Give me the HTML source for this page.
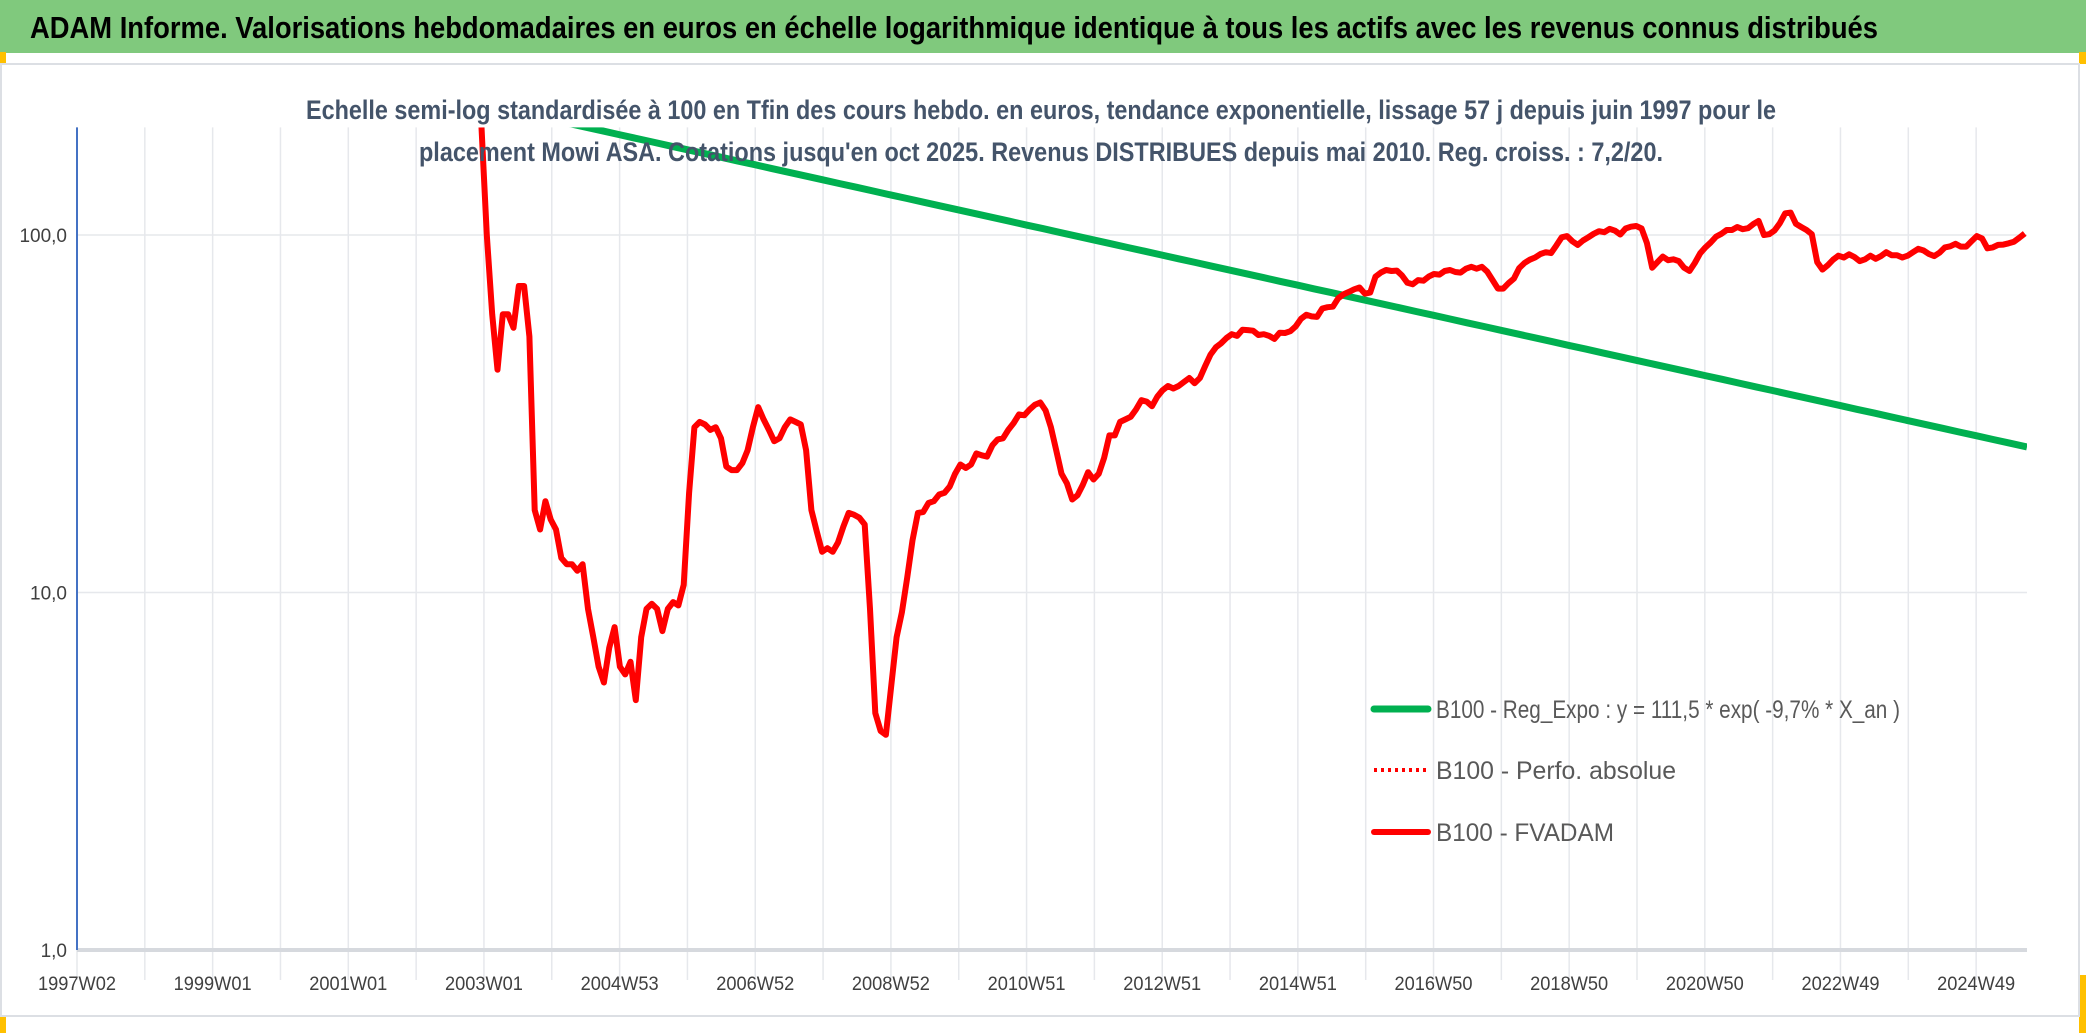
<!DOCTYPE html>
<html><head><meta charset="utf-8"><style>
html,body{margin:0;padding:0;background:#fff;}
svg{display:block;font-family:"Liberation Sans",sans-serif;}
</style></head><body>
<svg id="chart" width="2086" height="1033" viewBox="0 0 2086 1033" xmlns="http://www.w3.org/2000/svg">
<rect x="0" y="0" width="2086" height="53" fill="#80c97d"/>
<text x="30" y="38" font-size="31" font-weight="bold" fill="#000" textLength="1848" lengthAdjust="spacingAndGlyphs">ADAM Informe. Valorisations hebdomadaires en euros en échelle logarithmique identique à tous les actifs avec les revenus connus distribués</text>
<rect x="0" y="52" width="6" height="12" fill="#ffc000"/>
<rect x="2079" y="52" width="7" height="12" fill="#ffc000"/>
<rect x="0" y="1017" width="6" height="16" fill="#ffc000"/>
<rect x="2079" y="975" width="7" height="58" fill="#ffc000"/>
<rect x="1" y="64" width="2078" height="952" fill="#fff" stroke="#dcdfe4" stroke-width="2"/>
<text x="306" y="119" font-size="27" font-weight="bold" fill="#44546a" textLength="1470" lengthAdjust="spacingAndGlyphs">Echelle semi-log standardisée à 100 en Tfin des cours hebdo. en euros, tendance exponentielle, lissage 57 j depuis juin 1997 pour le</text>
<g id="grid"></g>
<g id="series"></g>
<text x="419" y="161" font-size="27" font-weight="bold" fill="#44546a" textLength="1244" lengthAdjust="spacingAndGlyphs">placement Mowi ASA. Cotations jusqu'en oct 2025. Revenus DISTRIBUES depuis mai 2010. Reg. croiss. : 7,2/20.</text>
<g id="axes"></g>
<g>
<line x1="1374" y1="709" x2="1428" y2="709" stroke="#00b050" stroke-width="7" stroke-linecap="round"/>
<text x="1436" y="718" font-size="25" fill="#595959" textLength="464" lengthAdjust="spacingAndGlyphs">B100 - Reg_Expo : y = 111,5 * exp( -9,7% *  X_an )</text>
<line x1="1374" y1="770" x2="1428" y2="770" stroke="#ff0000" stroke-width="4" stroke-dasharray="3 4"/>
<text x="1436" y="779" font-size="25" fill="#595959" textLength="240" lengthAdjust="spacingAndGlyphs">B100 - Perfo. absolue</text>
<line x1="1374" y1="832" x2="1428" y2="832" stroke="#ff0000" stroke-width="6" stroke-linecap="round"/>
<text x="1436" y="841" font-size="25" fill="#595959" textLength="178" lengthAdjust="spacingAndGlyphs">B100 - FVADAM</text>
</g>
</svg>
<script>
const xTickLabels = ["1997W02","1999W01","2001W01","2003W01","2004W53","2006W52","2008W52","2010W51","2012W51","2014W51","2016W50","2018W50","2020W50","2022W49","2024W49"];
const yTickValues = [1, 10, 100];
const yTickLabels = ["1,0","10,0","100,0"];
const regA = 111.5;
const regRate = -0.097;
const regOriginYear = 2010.55;
const fvStartYear = 2002.98;
const fvStepYears = 0.0784;
const fvValues = [200,100,60,42,60,60,55,72,72,52,17,15,18,16,15,12.5,12,12,11.5,12,9,7.5,6.2,5.6,7,8,6.2,5.9,6.4,5,7.5,9,9.3,9,7.8,9,9.4,9.2,10.5,19,29,30,29.5,28.5,29,27,22.5,22,22,23,25,29,33,30.5,28.5,26.5,27,29,30.5,30,29.5,25,17,14.8,13,13.3,13,13.8,15.3,16.7,16.5,16.2,15.5,9,4.6,4.1,4,5.5,7.5,8.8,11,14,16.7,16.8,17.8,18,18.8,19,19.8,21.5,22.8,22.3,22.8,24.5,24.2,24,25.8,26.8,27,28.5,29.8,31.5,31.3,32.5,33.5,34,32.3,29,25,21.5,20.2,18.2,18.7,20,21.7,20.7,21.5,23.8,27.5,27.5,30,30.5,31,32.5,34.5,34.2,33.2,35.3,36.8,37.8,37.2,37.8,38.8,39.8,38.5,39.8,43,46.3,48.5,49.8,51.5,52.8,52.2,54.3,54.2,54,52.5,52.8,52.2,51.2,53.3,53.2,53.8,55.5,58.3,59.8,59.2,59,62.3,62.8,63,66.5,68.3,69.3,70.5,71.3,68.5,69,76.5,78.5,79.8,79.3,79.5,77,73.5,72.8,74.8,74.5,76.5,77.8,77.5,79.3,79.8,78.8,78.5,80.5,81.5,80.5,81.5,79,74.8,70.8,70.8,73.3,75.5,80.8,83.5,85.3,86.5,88.5,89.5,89,93.5,98.5,99.3,96,93.8,96.5,98.5,100.8,102.5,101.8,104,102.8,100.3,104.3,105.5,106,104.3,95,81,84,87,85,85.5,84.5,81,79.3,83.5,88.8,92.3,95.3,99,100.8,103.3,103.3,105.3,103.8,104.5,107.3,109.5,100,100.5,103,108,115,115.5,107.5,105.3,103.3,100.5,84,80,82.3,85.3,87.5,86.5,88.3,86.8,84.5,85.5,87.5,85.8,87.3,89.5,87.8,87.8,86.5,87.5,89.5,91.5,90.5,88.5,87.3,89.3,92.3,93,94.5,92.8,92.8,96,99.3,97.8,91.8,92.3,93.8,94,94.8,95.8,98.3,101];

const NS = "http://www.w3.org/2000/svg";
const X0 = 77, X1 = 2027, T0 = 1997.02, T1 = 2025.75;
const yTopVal = 200, Y100 = 235, DEC = 357.5;
function xScale(t){ return X0 + (t - T0) / (T1 - T0) * (X1 - X0); }
function yScale(v){ return Y100 - Math.log10(v / 100) * DEC; }
const yTop = yScale(yTopVal), yBot = yScale(1);
function mk(tag, attrs, parent){ const e = document.createElementNS(NS, tag); for (const k in attrs) e.setAttribute(k, attrs[k]); parent.appendChild(e); return e; }
const grid = document.getElementById('grid'), axes = document.getElementById('axes'), series = document.getElementById('series');

const nV = 29;
for (let i = 0; i < nV; i++) {
  const t = T0 + i * (T1 - T0) / 28.75;
  const x = xScale(t);
  if (x > X1) break;
  const l = mk('line', {x1:x, y1:yTop, x2:x, y2:yBot + 30, stroke:'#e6e8ec', 'stroke-width':1.5}, grid);
  
  
}
yTickValues.forEach((v, i) => {
  const y = yScale(v);
  const l = mk('line', {x1:X0, y1:y, x2:X1, y2:y, stroke: v === 1 ? '#d6d9de' : '#e6e8ec', 'stroke-width': v === 1 ? 4 : 1.5}, grid);
  
  
  const t = mk('text', {x:67, y:y + 7, 'text-anchor':'end', 'font-size':19, fill:'#404040'}, axes);
  t.textContent = yTickLabels[i];
  
  
});
const yAxis = mk('line', {x1:X0, y1:yTop, x2:X0, y2:yBot, stroke:'#4472c4', 'stroke-width':2}, axes);


xTickLabels.forEach((lab, i) => {
  const t = T0 + i * 2 * (T1 - T0) / 28.75;
  const tx = mk('text', {x:xScale(t), y:990, 'text-anchor':'middle', 'font-size':19, fill:'#404040', textLength:78, lengthAdjust:'spacingAndGlyphs'}, axes);
  tx.textContent = lab;
  
  
});

const clip = mk('clipPath', {id:'plotclip'}, series);
mk('rect', {x:X0, y:yTop, width:X1 - X0, height:yBot - yTop}, clip);
let regPts = [];
for (let t = 2003; t <= T1 + 1e-9; t += 0.25) {
  const v = regA * Math.exp(regRate * (t - regOriginYear));
  regPts.push(xScale(t).toFixed(1) + ',' + yScale(v).toFixed(1));
}
const reg = mk('polyline', {points:regPts.join(' '), fill:'none', stroke:'#00b050', 'stroke-width':7, 'clip-path':'url(#plotclip)'}, series);



const fvPts = fvValues.map((v, i) => xScale(fvStartYear + i * fvStepYears).toFixed(1) + ',' + yScale(v).toFixed(1));
const fv = mk('polyline', {points:fvPts.join(' '), fill:'none', stroke:'#ff0000', 'stroke-width':6, 'stroke-linejoin':'round', 'clip-path':'url(#plotclip)'}, series);


</script>
</body></html>
